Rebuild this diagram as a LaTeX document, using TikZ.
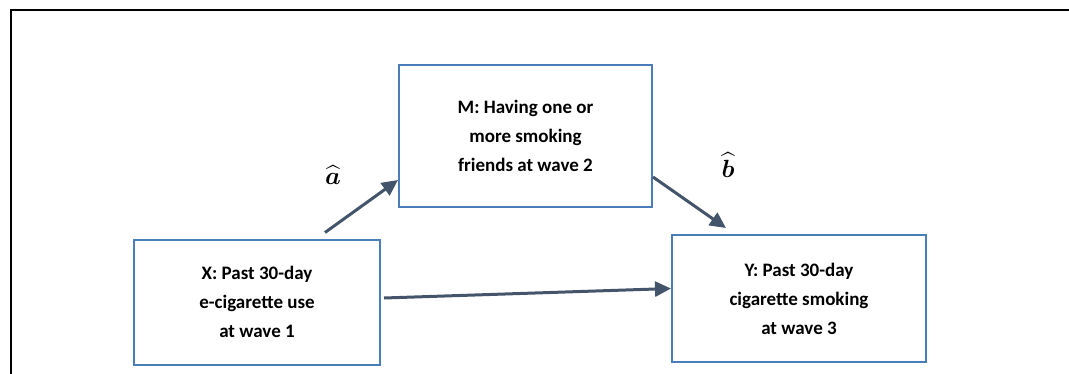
\documentclass[tikz,border=0pt]{standalone}
\usepackage{fontspec}
\usepackage{amsmath}
\usepackage{bm}
\setmainfont{Carlito}
\usepackage{xcolor}
\definecolor{medblue}{RGB}{74, 126, 187}
\definecolor{medslate}{RGB}{68, 84, 106}
\usetikzlibrary{arrows.meta}

\begin{document}
\begin{tikzpicture}[x=1pt, y=-1pt,
    varbox/.style={draw=medblue, line width=2pt, fill=white, inner sep=0pt, align=center,
        font=\fontsize{19}{29}\selectfont\bfseries},
    patharrow/.style={draw=medslate, line width=3pt, -{Triangle[length=16pt, width=15pt]}},
    coef/.style={inner sep=0pt, font=\fontsize{28}{32}\selectfont}]
    \clip (0,0) rectangle (1069,373);
    \draw[line width=2.5pt] (11,10) rectangle (1090,395);
    \node[varbox, minimum width=253pt, minimum height=142pt] (M) at (525.5,136) {M: Having one or\\more smoking\\friends at wave 2};
    \node[varbox, minimum width=246pt, minimum height=125pt] (X) at (257,302) {X: Past 30-day\\e-cigarette use\\at wave 1};
    \node[varbox, minimum width=254pt, minimum height=127pt] (Y) at (799,298.5) {Y: Past 30-day\\cigarette smoking\\at wave 3};
    \draw[patharrow] ([xshift=68pt, yshift=6pt]X.north) -- ([yshift=28pt]M.south west);
    \draw[patharrow] ([yshift=31pt]M.south east) -- ([xshift=55pt, yshift=6pt]Y.north west);
    \draw[patharrow] ([xshift=3pt, yshift=4pt]X.east) -- ([yshift=10pt]Y.west);
    \node[coef] (ahat) at (333,175) {$\bm{\widehat{a}}$};
    \node[coef] (bhat) at (728,165) {$\bm{\widehat{b}}$};
\end{tikzpicture}
\end{document}
